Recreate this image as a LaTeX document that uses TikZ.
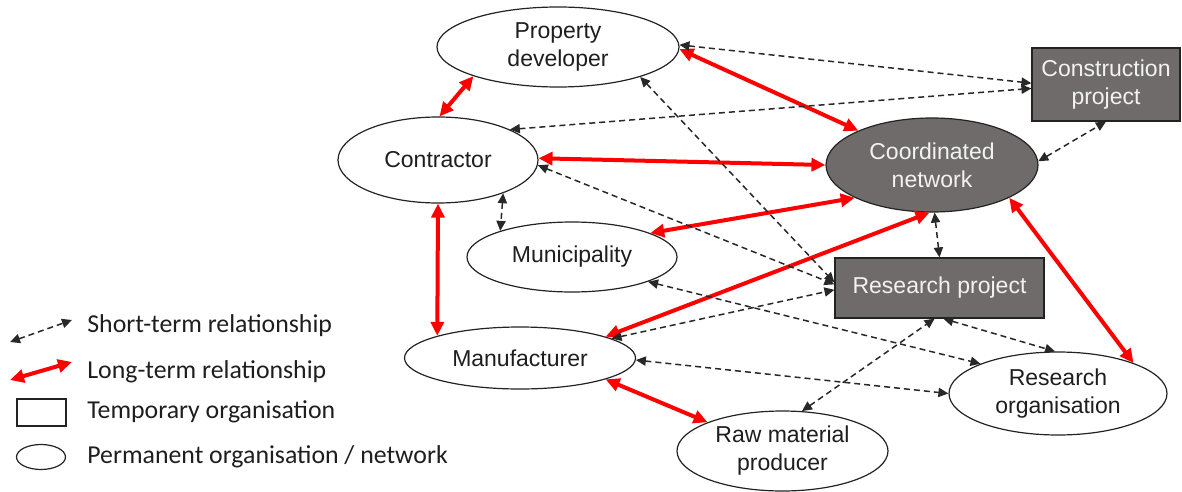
\documentclass[tikz,border=0pt]{standalone}
\usepackage{fontspec}
\setmainfont{Liberation Sans}
\newfontfamily\legendfont{Carlito}
\usetikzlibrary{arrows.meta,shapes.geometric}
\definecolor{orgfill}{RGB}{112,107,107}
\definecolor{inkline}{RGB}{35,35,35}
\definecolor{inktext}{RGB}{30,30,30}
\definecolor{dashink}{RGB}{40,40,40}
\definecolor{relred}{RGB}{255,0,0}
\definecolor{paletext}{RGB}{242,242,242}

\begin{document}
\begin{tikzpicture}[x=0.5pt,y=-0.5pt,
  labelfont/.style={font=\fontsize{11.5}{14}\selectfont},
  permorg/.style={ellipse, draw=inkline, line width=0.6pt, fill=white,
    inner sep=0pt, align=center, text=inktext, labelfont},
  darkorg/.style={permorg, fill=orgfill, text=paletext},
  temporg/.style={rectangle, draw=inkline, line width=0.6pt, fill=orgfill,
    inner sep=0pt, align=center, text=paletext, labelfont},
  shortrel/.style={draw=dashink, line width=0.75pt, dash pattern=on 3pt off 2pt,
    {Triangle[length=5pt,width=4.6pt]}-{Triangle[length=5pt,width=4.6pt]}},
  longrel/.style={draw=relred, line width=2pt,
    {Triangle[length=7pt,width=6.5pt]}-{Triangle[length=7pt,width=6.5pt]}},
  legendtext/.style={anchor=west, inner sep=0pt, text=inktext,
    font=\legendfont\fontsize{12.9}{15}\selectfont}
]
\useasboundingbox (0,0) rectangle (1182,492);

% organisations and networks
\node[permorg, minimum width=121pt, minimum height=40pt] (pd) at (558,47) {Property\\developer};
\node[permorg, minimum width=100pt, minimum height=43pt] (con) at (438,160) {Contractor};
\node[permorg, minimum width=105pt, minimum height=35pt] (mun) at (572,257) {Municipality};
\node[permorg, minimum width=115.5pt, minimum height=31pt] (man) at (520,358) {Manufacturer};
\node[permorg, minimum width=105.5pt, minimum height=40pt] (raw) at (782.5,451) {Raw material\\producer};
\node[permorg, minimum width=109pt, minimum height=41.5pt] (ro) at (1058,393.5) {Research\\organisation};
\node[darkorg, minimum width=106pt, minimum height=47pt] (cn) at (932,165) {Coordinated\\network};

% temporary organisations
\node[temporg, minimum width=74pt, minimum height=36.5pt] (cp) at (1106,84.5) {Construction\\project};
\node[temporg, minimum width=104.5pt, minimum height=30pt] (rp) at (939.5,288) {Research project};

% long-term relationships
\draw[longrel] (pd.199) -- (con.88);
\draw[longrel] (pd.-1) -- (cn.155);
\draw[longrel] (con.1) -- (cn.180);
\draw[longrel] (con.270) -- (man.165);
\draw[longrel] (mun.17) -- (cn.203);
\draw[longrel] (man.14) -- (cn.267);
\draw[longrel] (cn.-23) -- (ro.22);
\draw[longrel] (man.-14) -- (raw.159);

% short-term relationships
\draw[shortrel] (pd.1) -- (cp.179);
\draw[shortrel] (con.23) -- (cp.183);
\draw[shortrel] (cn.2) -- (cp.270);
\draw[shortrel] (con.-27) -- (mun.160);
\draw[shortrel] (pd.-20) -- (rp.177);
\draw[shortrel] (con.-3) -- (rp.178);
\draw[shortrel] (cn.273) -- (rp.90);
\draw[shortrel] (mun.-18) -- (ro.159);
\draw[shortrel] (man.12) -- (rp.181);
\draw[shortrel] (man.-1) -- (ro.180);
\draw[shortrel] (raw.64) -- (rp.261);
\draw[shortrel] (rp.277) -- (ro.94);

% legend
\coordinate (ls1) at (10,342);
\coordinate (ls2) at (72,320);
\draw[shortrel] (ls1) -- (ls2);
\coordinate (ll1) at (10,380);
\coordinate (ll2) at (72,362);
\draw[longrel] (ll1) -- (ll2);
\node[rectangle, draw=inkline, line width=0.6pt, minimum width=24.5pt, minimum height=13.5pt, inner sep=0pt] (lrect) at (41.5,412.5) {};
\node[ellipse, draw=inkline, line width=0.6pt, minimum width=24.5pt, minimum height=12.5pt, inner sep=0pt] (lell) at (41,457) {};
\node[legendtext] (tshort) at (87,326) {Short-term relationship};
\node[legendtext] (tlong) at (87,372) {Long-term relationship};
\node[legendtext] (ttemp) at (87,412) {Temporary organisation};
\node[legendtext] (tperm) at (87,457) {Permanent organisation / network};
\end{tikzpicture}
\end{document}
